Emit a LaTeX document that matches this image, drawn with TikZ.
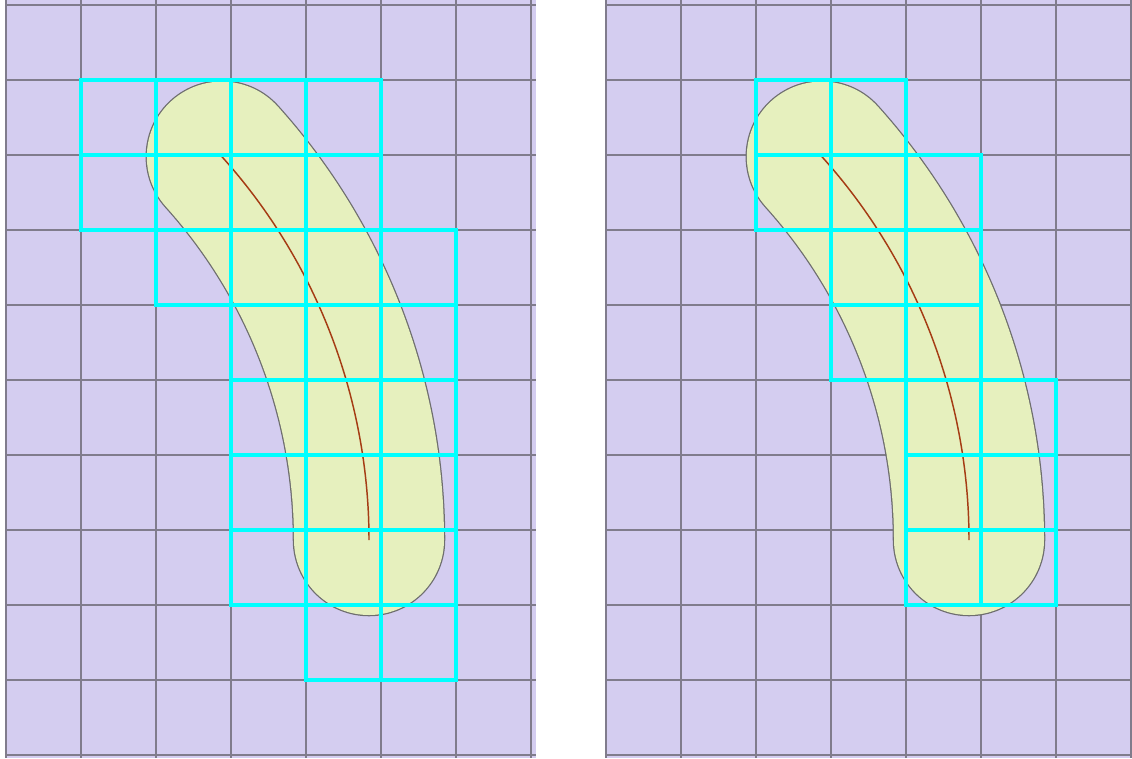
\documentclass[tikz,border=0pt]{standalone}
\definecolor{bgpurple}{RGB}{212,205,240}
\definecolor{gridgray}{RGB}{128,124,140}
\definecolor{bananafill}{RGB}{230,240,190}
\definecolor{bananaedge}{RGB}{110,110,110}
\definecolor{midbrown}{RGB}{165,60,20}
\definecolor{cyanline}{RGB}{0,255,255}
\begin{document}
\begin{tikzpicture}[x=0.75pt,y=-0.75pt,
  panel/.style={fill=bgpurple},
  gridline/.style={draw=gridgray,line width=1.1pt},
  cell/.style={draw=cyanline,line width=3pt},
  bodyedge/.style={draw=bananaedge,line width=114.4pt,line cap=round},
  bodyfill/.style={draw=bananafill,line width=112.5pt,line cap=round},
  midline/.style={draw=midbrown,line width=1.1pt}]
\useasboundingbox (0,0) rectangle (1132,758);
\fill[white] (0,0) rectangle (1132,758);
% panels and grids
\foreach \ox/\w in {0/531, 600/526} {
  \begin{scope}[shift={(\ox,0)}]
    \fill[panel] (5,0) rectangle (5+\w,758);
    \foreach \k in {0,...,7} \draw[gridline] (6+75*\k,0) -- (6+75*\k,758);
    \foreach \k in {0,...,10} \draw[gridline] (5,5+75*\k) -- (5+\w,5+75*\k);
    % banana body
    \draw[bodyedge] (369,540) arc[start angle=0,end angle=-42,radius=573];
    \draw[bodyfill] (369,540) arc[start angle=0,end angle=-42,radius=573];
    \draw[midline] (369,540) arc[start angle=0,end angle=-42,radius=573];
  \end{scope}
}
% highlighted cells, left panel
\foreach \c/\r in {1/1,2/1,3/1,4/1, 1/2,2/2,3/2,4/2, 2/3,3/3,4/3,5/3,
                   3/4,4/4,5/4, 3/5,4/5,5/5, 3/6,4/6,5/6, 3/7,4/7,5/7, 4/8,5/8}
  \draw[cell] (6+75*\c,5+75*\r) rectangle (81+75*\c,80+75*\r);
% highlighted cells, right panel
\foreach \c/\r in {2/1,3/1, 2/2,3/2,4/2, 3/3,4/3, 3/4,4/4, 4/5,5/5, 4/6,5/6, 4/7,5/7}
  \draw[cell] (606+75*\c,5+75*\r) rectangle (681+75*\c,80+75*\r);
\end{tikzpicture}
\end{document}
